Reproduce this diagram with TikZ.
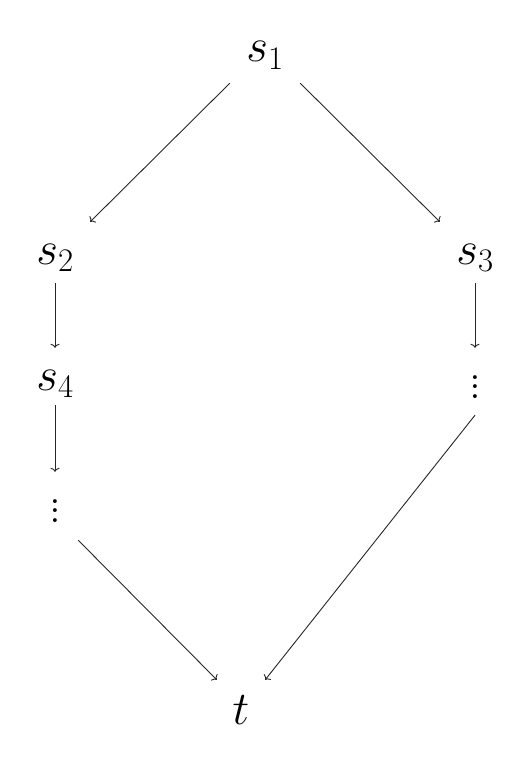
\RequirePackage{fix-cm}
\documentclass[tikz,border=0pt]{standalone}
\usetikzlibrary{arrows.meta}
\newcommand{\myvdots}{\vbox{\baselineskip=0.2em \lineskiplimit=0pt \hbox{.}\hbox{.}\hbox{.}}}
\begin{document}
\begin{tikzpicture}[x=1pt,y=-1pt,
  every node/.style={inner sep=0pt,anchor=base,font=\fontsize{47}{56}\selectfont},
  arr/.style={line width=0.9pt,draw=black!85,-{To[length=4pt,width=9pt]}}]
\useasboundingbox (0,0) rectangle (531,767);
\node[minimum width=70pt,text height=40pt,text depth=21pt] (s1) at (265,62) {$s_1$};
\node[minimum width=70pt,text height=42pt,text depth=19pt] (s2) at (55,264) {$s_2$};
\node[minimum width=70pt,text height=42pt,text depth=19pt] (s3) at (475,264) {$s_3$};
\node[minimum width=70pt,text height=42pt,text depth=15pt] (s4) at (55,390) {$s_4$};
\node[minimum width=46pt,text height=50pt,text depth=18pt] (vl) at (55,522) {\myvdots};
\node[minimum width=46pt,text height=50pt,text depth=17pt] (vr) at (475,398) {\myvdots};
\node[minimum width=48pt,text height=44pt,text depth=10pt] (t) at (241,724) {$t$};
\draw[arr] (s1.south west) -- (s2.north east);
\draw[arr] (s1.south east) -- (s3.north west);
\draw[arr] (s2.south) -- (s4.north);
\draw[arr] (s4.south) -- (vl.north);
\draw[arr] (s3.south) -- (vr.north);
\draw[arr] (vl.south east) -- (t.north west);
\draw[arr] (vr.south) -- (t.north east);
\end{tikzpicture}
\end{document}
